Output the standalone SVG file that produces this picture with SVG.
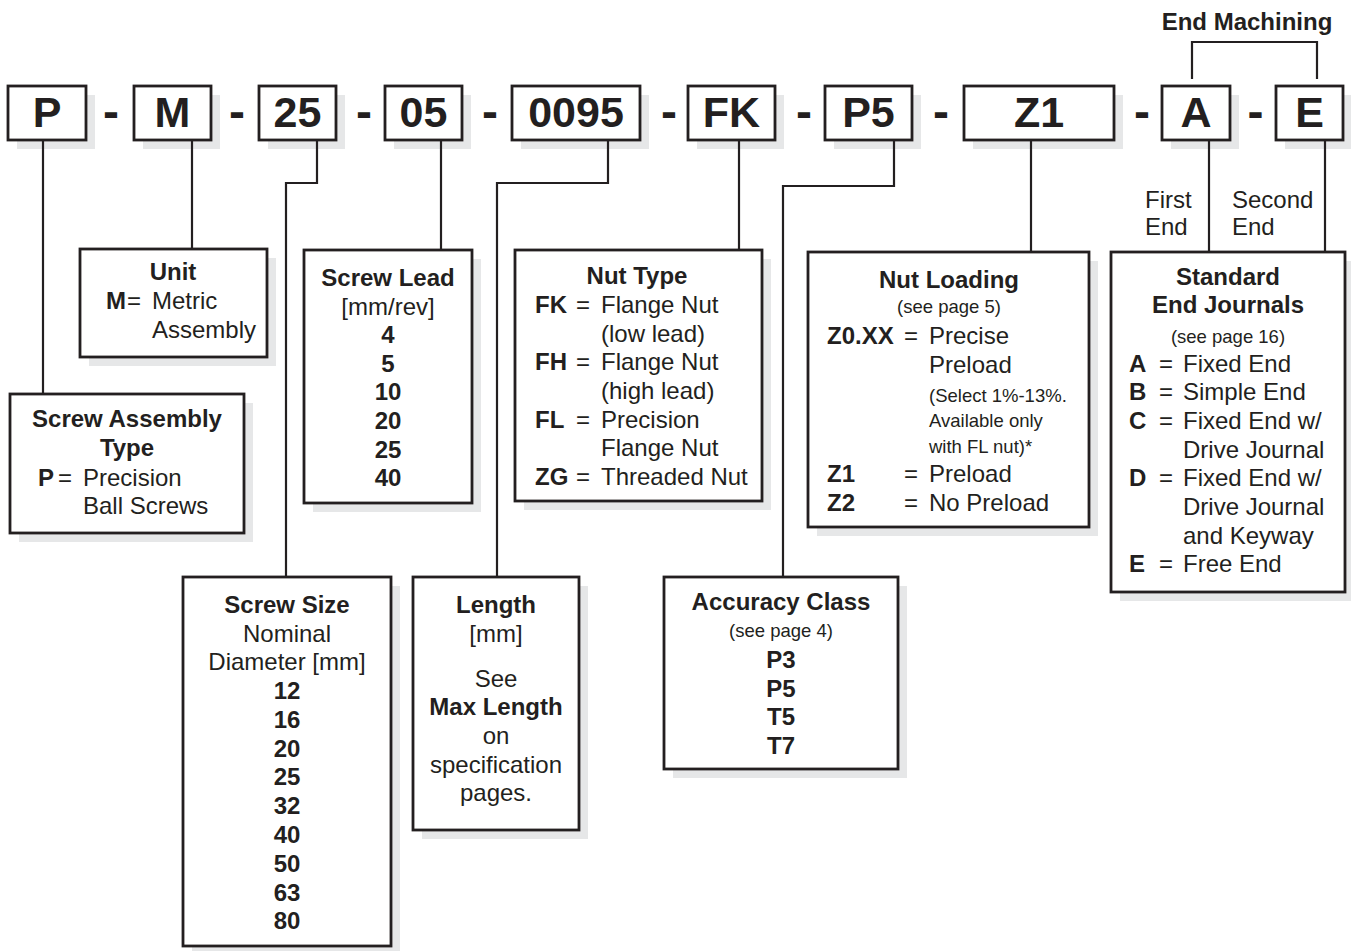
<svg xmlns="http://www.w3.org/2000/svg" width="1351" height="951" viewBox="0 0 1351 951">
<style>
.bg{fill:#ffffff}
.sh{fill:#e6e7e8}
.box{fill:#ffffff;stroke:#231f20;stroke-width:2.8}
.ln{fill:none;stroke:#231f20;stroke-width:2.2}
text{font-family:"Liberation Sans",Arial,Helvetica,sans-serif;fill:#231f20}
.code{font-size:43px;font-weight:bold;text-anchor:middle}
.dash{font-size:48px;font-weight:bold;text-anchor:middle}
.b{font-size:24px;font-weight:bold}
.r{font-size:24px}
.s{font-size:18.5px}
.m{text-anchor:middle}
</style>
<rect class="bg" x="0" y="0" width="1351" height="951"/>

<g id="code-row">
<g id="code-P"><rect class="sh" x="17" y="95" width="78" height="54"/><rect class="box" x="8" y="86" width="78" height="54"/><text class="code" x="47" y="127">P</text></g>
<text class="dash" x="111" y="128">-</text>
<g id="code-M"><rect class="sh" x="143" y="95" width="77" height="54"/><rect class="box" x="134" y="86" width="77" height="54"/><text class="code" x="172.5" y="127">M</text></g>
<text class="dash" x="237" y="128">-</text>
<g id="code-25"><rect class="sh" x="268" y="95" width="77" height="54"/><rect class="box" x="259" y="86" width="77" height="54"/><text class="code" x="297.5" y="127">25</text></g>
<text class="dash" x="364" y="128">-</text>
<g id="code-05"><rect class="sh" x="394" y="95" width="77" height="54"/><rect class="box" x="385" y="86" width="77" height="54"/><text class="code" x="423.5" y="127">05</text></g>
<text class="dash" x="490" y="128">-</text>
<g id="code-0095"><rect class="sh" x="521" y="95" width="128" height="54"/><rect class="box" x="512" y="86" width="128" height="54"/><text class="code" x="576" y="127">0095</text></g>
<text class="dash" x="669" y="128">-</text>
<g id="code-FK"><rect class="sh" x="697" y="95" width="87" height="54"/><rect class="box" x="688" y="86" width="87" height="54"/><text class="code" x="731.5" y="127">FK</text></g>
<text class="dash" x="804" y="128">-</text>
<g id="code-P5"><rect class="sh" x="834" y="95" width="87" height="54"/><rect class="box" x="825" y="86" width="87" height="54"/><text class="code" x="868.5" y="127">P5</text></g>
<text class="dash" x="941" y="128">-</text>
<g id="code-Z1"><rect class="sh" x="973" y="95" width="150" height="54"/><rect class="box" x="964" y="86" width="150" height="54"/><text class="code" x="1039" y="127">Z1</text></g>
<text class="dash" x="1142" y="128">-</text>
<g id="code-A"><rect class="sh" x="1171" y="95" width="68" height="54"/><rect class="box" x="1162" y="86" width="68" height="54"/><text class="code" x="1196" y="127">A</text></g>
<text class="dash" x="1255.5" y="128">-</text>
<g id="code-E"><rect class="sh" x="1285" y="95" width="67" height="54"/><rect class="box" x="1276" y="86" width="67" height="54"/><text class="code" x="1309.5" y="127">E</text></g>
</g>

<g id="end-machining">
<text class="b m" x="1247" y="30">End Machining</text>
<text class="r" x="1145" y="208">First</text>
<text class="r" x="1145" y="235">End</text>
<text class="r" x="1232" y="208">Second</text>
<text class="r" x="1232" y="235">End</text>
</g>

<g id="node-unit">
<rect class="sh" x="89" y="258" width="187" height="108"/>
<rect class="box" x="80" y="249" width="187" height="108"/>
<text class="b m" x="173" y="280">Unit</text>
<text class="b" x="106" y="309">M</text><text class="r" x="127" y="309">=</text><text class="r" x="152" y="309">Metric</text>
<text class="r" x="152" y="338">Assembly</text>
</g>

<g id="node-assembly-type">
<rect class="sh" x="19" y="403" width="234" height="139"/>
<rect class="box" x="10" y="394" width="234" height="139"/>
<text class="b m" x="127" y="427">Screw Assembly</text>
<text class="b m" x="127" y="456">Type</text>
<text class="b" x="38" y="486">P</text><text class="r" x="58" y="486">=</text><text class="r" x="83" y="486">Precision</text>
<text class="r" x="83" y="514">Ball Screws</text>
</g>

<g id="node-screw-lead">
<rect class="sh" x="313" y="259" width="168" height="253"/>
<rect class="box" x="304" y="250" width="168" height="253"/>
<text class="b m" x="388" y="286">Screw Lead</text>
<text class="r m" x="388" y="315">[mm/rev]</text>
<text class="b m" x="388" y="343">4</text>
<text class="b m" x="388" y="372">5</text>
<text class="b m" x="388" y="400">10</text>
<text class="b m" x="388" y="429">20</text>
<text class="b m" x="388" y="458">25</text>
<text class="b m" x="388" y="486">40</text>
</g>

<g id="node-nut-type">
<rect class="sh" x="524" y="259" width="247" height="251"/>
<rect class="box" x="515" y="250" width="247" height="251"/>
<text class="b m" x="637" y="284">Nut Type</text>
<text class="b" x="535" y="313">FK</text><text class="r" x="576" y="313">=</text><text class="r" x="601" y="313">Flange Nut</text>
<text class="r" x="601" y="342">(low lead)</text>
<text class="b" x="535" y="370">FH</text><text class="r" x="576" y="370">=</text><text class="r" x="601" y="370">Flange Nut</text>
<text class="r" x="601" y="399">(high lead)</text>
<text class="b" x="535" y="428">FL</text><text class="r" x="576" y="428">=</text><text class="r" x="601" y="428">Precision</text>
<text class="r" x="601" y="456">Flange Nut</text>
<text class="b" x="535" y="485">ZG</text><text class="r" x="576" y="485">=</text><text class="r" x="601" y="485">Threaded Nut</text>
</g>

<g id="node-nut-loading">
<rect class="sh" x="817" y="261" width="281" height="275"/>
<rect class="box" x="808" y="252" width="281" height="275"/>
<text class="b m" x="949" y="288">Nut Loading</text>
<text class="s m" x="949" y="313">(see page 5)</text>
<text class="b" x="827" y="344">Z0.XX</text><text class="r" x="904" y="344">=</text><text class="r" x="929" y="344">Precise</text>
<text class="r" x="929" y="373">Preload</text>
<text class="s" x="929" y="402">(Select 1%-13%.</text>
<text class="s" x="929" y="427">Available only</text>
<text class="s" x="929" y="453">with FL nut)*</text>
<text class="b" x="827" y="482">Z1</text><text class="r" x="904" y="482">=</text><text class="r" x="929" y="482">Preload</text>
<text class="b" x="827" y="511">Z2</text><text class="r" x="904" y="511">=</text><text class="r" x="929" y="511">No Preload</text>
</g>

<g id="node-end-journals">
<rect class="sh" x="1120" y="261" width="234" height="340"/>
<rect class="box" x="1111" y="252" width="234" height="340"/>
<text class="b m" x="1228" y="285">Standard</text>
<text class="b m" x="1228" y="313">End Journals</text>
<text class="s m" x="1228" y="343">(see page 16)</text>
<text class="b" x="1129" y="372">A</text><text class="r" x="1159" y="372">=</text><text class="r" x="1183" y="372">Fixed End</text>
<text class="b" x="1129" y="400">B</text><text class="r" x="1159" y="400">=</text><text class="r" x="1183" y="400">Simple End</text>
<text class="b" x="1129" y="429">C</text><text class="r" x="1159" y="429">=</text><text class="r" x="1183" y="429">Fixed End w/</text>
<text class="r" x="1183" y="458">Drive Journal</text>
<text class="b" x="1129" y="486">D</text><text class="r" x="1159" y="486">=</text><text class="r" x="1183" y="486">Fixed End w/</text>
<text class="r" x="1183" y="515">Drive Journal</text>
<text class="r" x="1183" y="544">and Keyway</text>
<text class="b" x="1129" y="572">E</text><text class="r" x="1159" y="572">=</text><text class="r" x="1183" y="572">Free End</text>
</g>

<g id="node-screw-size">
<rect class="sh" x="192" y="586" width="208" height="369"/>
<rect class="box" x="183" y="577" width="208" height="369"/>
<text class="b m" x="287" y="613">Screw Size</text>
<text class="r m" x="287" y="642">Nominal</text>
<text class="r m" x="287" y="670">Diameter [mm]</text>
<text class="b m" x="287" y="699">12</text>
<text class="b m" x="287" y="728">16</text>
<text class="b m" x="287" y="757">20</text>
<text class="b m" x="287" y="785">25</text>
<text class="b m" x="287" y="814">32</text>
<text class="b m" x="287" y="843">40</text>
<text class="b m" x="287" y="872">50</text>
<text class="b m" x="287" y="901">63</text>
<text class="b m" x="287" y="929">80</text>
</g>

<g id="node-length">
<rect class="sh" x="422" y="586" width="166" height="253"/>
<rect class="box" x="413" y="577" width="166" height="253"/>
<text class="b m" x="496" y="613">Length</text>
<text class="r m" x="496" y="642">[mm]</text>
<text class="r m" x="496" y="687">See</text>
<text class="b m" x="496" y="715">Max Length</text>
<text class="r m" x="496" y="744">on</text>
<text class="r m" x="496" y="773">specification</text>
<text class="r m" x="496" y="801">pages.</text>
</g>

<g id="node-accuracy">
<rect class="sh" x="673" y="586" width="234" height="192"/>
<rect class="box" x="664" y="577" width="234" height="192"/>
<text class="b m" x="781" y="610">Accuracy Class</text>
<text class="s m" x="781" y="637">(see page 4)</text>
<text class="b m" x="781" y="668">P3</text>
<text class="b m" x="781" y="697">P5</text>
<text class="b m" x="781" y="725">T5</text>
<text class="b m" x="781" y="754">T7</text>
</g>

<g id="connectors">
<path class="ln" d="M43 140V394"/>
<path class="ln" d="M192 140V249"/>
<path class="ln" d="M317 140V183H286V577"/>
<path class="ln" d="M441 140V250"/>
<path class="ln" d="M608 140V183H497V577"/>
<path class="ln" d="M739 140V250"/>
<path class="ln" d="M894 140V186H783V577"/>
<path class="ln" d="M1031 140V252"/>
<path class="ln" d="M1209 140V252"/>
<path class="ln" d="M1325 140V252"/>
<path class="ln" d="M1192 79V42H1317V79"/>
</g>
</svg>
